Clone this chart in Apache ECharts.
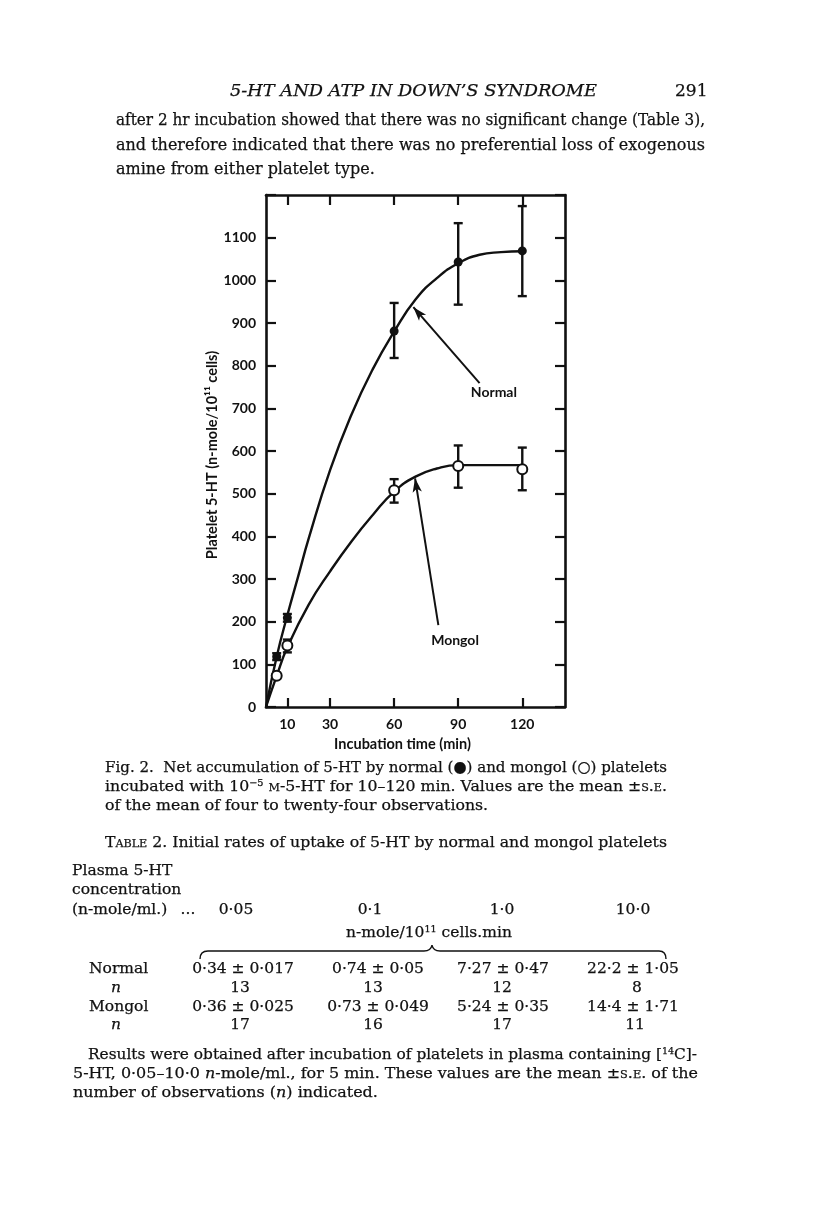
<!DOCTYPE html>
<html>
<head>
<meta charset="utf-8">
<script src="https://cdn.jsdelivr.net/npm/echarts@6/dist/echarts.min.js"></script>
<style>
  html, body { margin: 0; padding: 0; background: #fff; }
  body { width: 816px; height: 1211px; position: relative; overflow: hidden; font-family: "DejaVu Serif", "Liberation Serif", serif; color: #111; }
  #chart { position: absolute; left: 0; top: 0; width: 816px; height: 1211px; z-index: 0; }
  .t, .c { -webkit-text-stroke: 0.25px #111; }
  .t { position: absolute; white-space: nowrap; line-height: 1; z-index: 2; transform-origin: 0 50%; }
  .c { position: absolute; white-space: nowrap; line-height: 1; z-index: 2; transform: translateX(-50%); }
  .sc { font-variant: small-caps; }
  sup { font-size: 0.62em; vertical-align: 0; position: relative; top: -0.5em; }
  svg { position: absolute; left: 0; top: 0; z-index: 1; }
</style>
</head>
<body>
<div id="chart"></div>

<!-- running head -->
<div class="t" data-w="367" style="left:230px; top:82px; font-size:17px; font-style:italic;">5-HT AND ATP IN DOWN’S SYNDROME</div>
<div class="t" style="left:675px; top:82px; font-size:17px;">291</div>

<!-- paragraph -->
<div class="t" data-w="589" style="left:116px; top:111px; font-size:17px;">after 2 hr incubation showed that there was no significant change (Table 3),</div>
<div class="t" data-w="589" style="left:116px; top:136px; font-size:17px;">and therefore indicated that there was no preferential loss of exogenous</div>
<div class="t" data-s="prev" style="left:116px; top:160px; font-size:17px;">amine from either platelet type.</div>

<!-- caption -->
<div class="t" data-w="562" style="left:105px; top:760px; font-size:15.5px;">Fig. 2.&nbsp; Net accumulation of 5-HT by normal (●) and mongol (○) platelets</div>
<div class="t" data-w="562" style="left:105px; top:779px; font-size:15.5px;">incubated with 10<sup>−5</sup> <span class="sc">m</span>-5-HT for 10–120 min. Values are the mean ±<span class="sc">s.e.</span></div>
<div class="t" data-s="prev" style="left:105px; top:798px; font-size:15.5px;">of the mean of four to twenty-four observations.</div>

<!-- table title -->
<div class="t" data-w="562" style="left:105px; top:835px; font-size:15.5px;"><span class="sc">Table</span> 2. Initial rates of uptake of 5-HT by normal and mongol platelets</div>

<!-- table -->
<div class="t" style="left:72px; top:863px; font-size:15.5px;">Plasma 5-HT</div>
<div class="t" style="left:72px; top:882px; font-size:15.5px;">concentration</div>
<div class="t" style="left:72px; top:902px; font-size:15.5px;">(n-mole/ml.)</div>
<div class="c" style="left:188px; top:902px; font-size:15.5px;">...</div>
<div class="c" style="left:236px; top:902px; font-size:15.5px;">0·05</div>
<div class="c" style="left:370px; top:902px; font-size:15.5px;">0·1</div>
<div class="c" style="left:502px; top:902px; font-size:15.5px;">1·0</div>
<div class="c" style="left:633px; top:902px; font-size:15.5px;">10·0</div>
<div class="c" style="left:429px; top:925px; font-size:15.5px;">n-mole/10<sup>11</sup> cells.min</div>

<svg width="816" height="1211"><path d="M200,959 Q200,951 208,951 L424,951 Q431,951 432,945 Q433,951 440,951 L659,951 Q666,951 666,959" fill="none" stroke="#111" stroke-width="1.4"/></svg>

<div class="t" style="left:89px; top:961px; font-size:15.5px;">Normal</div>
<div class="c" style="left:116px; top:980px; font-size:15.5px; font-style:italic;">n</div>
<div class="t" style="left:89px; top:999px; font-size:15.5px;">Mongol</div>
<div class="c" style="left:116px; top:1017px; font-size:15.5px; font-style:italic;">n</div>

<div class="c" style="left:243px; top:961px; font-size:15.5px;">0·34 ± 0·017</div>
<div class="c" style="left:378px; top:961px; font-size:15.5px;">0·74 ± 0·05</div>
<div class="c" style="left:503px; top:961px; font-size:15.5px;">7·27 ± 0·47</div>
<div class="c" style="left:633px; top:961px; font-size:15.5px;">22·2 ± 1·05</div>
<div class="c" style="left:240px; top:980px; font-size:15.5px;">13</div>
<div class="c" style="left:373px; top:980px; font-size:15.5px;">13</div>
<div class="c" style="left:502px; top:980px; font-size:15.5px;">12</div>
<div class="c" style="left:637px; top:980px; font-size:15.5px;">8</div>
<div class="c" style="left:243px; top:999px; font-size:15.5px;">0·36 ± 0·025</div>
<div class="c" style="left:378px; top:999px; font-size:15.5px;">0·73 ± 0·049</div>
<div class="c" style="left:503px; top:999px; font-size:15.5px;">5·24 ± 0·35</div>
<div class="c" style="left:633px; top:999px; font-size:15.5px;">14·4 ± 1·71</div>
<div class="c" style="left:240px; top:1017px; font-size:15.5px;">17</div>
<div class="c" style="left:373px; top:1017px; font-size:15.5px;">16</div>
<div class="c" style="left:502px; top:1017px; font-size:15.5px;">17</div>
<div class="c" style="left:635px; top:1017px; font-size:15.5px;">11</div>

<!-- footnote -->
<div class="t" data-w="609" style="left:88px; top:1047px; font-size:15.5px;">Results were obtained after incubation of platelets in plasma containing [<sup>14</sup>C]-</div>
<div class="t" data-w="625" style="left:73px; top:1066px; font-size:15.5px;">5-HT, 0·05–10·0 <i>n</i>-mole/ml., for 5 min. These values are the mean ±<span class="sc">s.e.</span> of the</div>
<div class="t" data-s="prev" style="left:73px; top:1085px; font-size:15.5px;">number of observations (<i>n</i>) indicated.</div>

<script>
// ---------- data ----------
const xTickValues = [10, 30, 60, 90, 120];

const normalTimes = [5, 10, 60, 90, 120];
const normalMeans = [118, 209, 881, 1043, 1069];
const normalLow   = [110, 200, 818, 943, 963];
const normalHigh  = [126, 218, 947, 1134, 1174];

const mongolTimes = [5, 10, 60, 90, 120];
const mongolMeans = [73, 144, 508, 565, 557];
const mongolLow   = [67, 128, 479, 514, 508];
const mongolHigh  = [80, 158, 534, 613, 608];

// fitted curves as drawn in the figure
const normalCurveT = [0, 5, 10, 15, 20, 30, 40, 50, 60, 70, 80, 90, 100, 110, 120];
const normalCurveV = [0, 118, 215, 305, 395, 555, 685, 792, 880, 955, 1005, 1040, 1060, 1066, 1068];
const mongolCurveT = [0, 5, 10, 20, 30, 40, 50, 60, 70, 80, 90, 105, 120];
const mongolCurveV = [0, 73, 140, 240, 318, 388, 450, 505, 540, 559, 567, 567, 567];

// annotation arrows (tail, head) and labels in data coordinates
const normalArrow = [[100, 759], [69, 937]];
const mongolArrow = [[80.7, 192], [69.8, 536]];
const normalLabelAt = [106.7, 738];
const mongolLabelAt = [88.5, 155];

// ---------- chart ----------
const ink = '#111';
const sansFont = 'Lato, "Open Sans", "DejaVu Sans", sans-serif';
const zip = (a, b) => a.map((v, i) => [v, b[i]]);

function errRender(params, api) {
  const x = api.value(0), lo = api.value(1), hi = api.value(2);
  const p1 = api.coord([x, lo]);
  const p2 = api.coord([x, hi]);
  const cw = 4.5;
  const st = { stroke: ink, lineWidth: 2.4 };
  return {
    type: 'group',
    children: [
      { type: 'line', shape: { x1: p1[0], y1: p1[1], x2: p2[0], y2: p2[1] }, style: st },
      { type: 'line', shape: { x1: p1[0] - cw, y1: p1[1], x2: p1[0] + cw, y2: p1[1] }, style: st },
      { type: 'line', shape: { x1: p2[0] - cw, y1: p2[1], x2: p2[0] + cw, y2: p2[1] }, style: st }
    ]
  };
}

const axisLineStyle = { show: true, onZero: false, lineStyle: { color: ink, width: 2.6 } };
const tickStyle = { color: ink, width: 2.2 };

const chart = echarts.init(document.getElementById('chart'), null, { renderer: 'canvas' });
chart.setOption({
  animation: false,
  backgroundColor: 'transparent',
  grid: { left: 266, top: 195, width: 299, height: 512, containLabel: false },
  xAxis: [
    {
      type: 'value', position: 'bottom', min: 0, max: 140,
      axisLine: axisLineStyle,
      axisTick: { show: true, inside: true, length: 9, lineStyle: tickStyle, customValues: xTickValues },
      axisLabel: { show: true, customValues: xTickValues, color: ink, fontFamily: sansFont, fontWeight: 'bold', fontSize: 14, margin: 10 },
      splitLine: { show: false },
      name: 'Incubation time (min)', nameLocation: 'middle', nameGap: 30,
      nameTextStyle: { color: ink, fontFamily: sansFont, fontWeight: 'bold', fontSize: 14.5, padding: [0, 26, 0, 0] }
    },
    {
      type: 'value', position: 'top', min: 0, max: 140,
      axisLine: axisLineStyle,
      axisTick: { show: true, inside: true, length: 10, lineStyle: tickStyle, customValues: xTickValues },
      axisLabel: { show: false },
      splitLine: { show: false }
    }
  ],
  yAxis: [
    {
      type: 'value', position: 'left', min: 0, max: 1200, interval: 100,
      axisLine: axisLineStyle,
      axisTick: { show: true, inside: true, length: 10, lineStyle: tickStyle },
      axisLabel: { color: ink, fontFamily: sansFont, fontWeight: 'bold', fontSize: 14, margin: 10,
                   formatter: v => (v === 1200 ? '' : String(v)) },
      splitLine: { show: false },
      name: 'Platelet 5-HT (n-mole/10¹¹ cells)', nameLocation: 'middle', nameGap: 46, nameRotate: 90,
      nameTextStyle: { color: ink, fontFamily: sansFont, fontWeight: 'bold', fontSize: 14.5, padding: [0, 8, 0, 0] }
    },
    {
      type: 'value', position: 'right', min: 0, max: 1200, interval: 100,
      axisLine: axisLineStyle,
      axisTick: { show: true, inside: true, length: 10, lineStyle: tickStyle },
      axisLabel: { show: false },
      splitLine: { show: false }
    }
  ],
  series: [
    {
      name: 'Normal curve', type: 'line', data: zip(normalCurveT, normalCurveV),
      smooth: 0.5, showSymbol: false, silent: true, z: 2,
      lineStyle: { color: ink, width: 2.4 },
      markLine: {
        silent: true, symbol: ['none', 'arrow'], symbolSize: [7, 14],
        lineStyle: { color: ink, width: 2, type: 'solid' }, label: { show: false },
        data: [[{ coord: normalArrow[0] }, { coord: normalArrow[1] }]]
      },
      markPoint: {
        silent: true, symbol: 'circle', symbolSize: 1, itemStyle: { color: 'transparent' },
        label: { show: true, position: 'inside', formatter: 'Normal', color: ink, fontFamily: sansFont, fontWeight: 'bold', fontSize: 14 },
        data: [{ coord: normalLabelAt, value: 'Normal' }]
      }
    },
    {
      name: 'Mongol curve', type: 'line', data: zip(mongolCurveT, mongolCurveV),
      smooth: 0.5, showSymbol: false, silent: true, z: 2,
      lineStyle: { color: ink, width: 2.4 },
      markLine: {
        silent: true, symbol: ['none', 'arrow'], symbolSize: [7, 14],
        lineStyle: { color: ink, width: 2, type: 'solid' }, label: { show: false },
        data: [[{ coord: mongolArrow[0] }, { coord: mongolArrow[1] }]]
      },
      markPoint: {
        silent: true, symbol: 'circle', symbolSize: 1, itemStyle: { color: 'transparent' },
        label: { show: true, position: 'inside', formatter: 'Mongol', color: ink, fontFamily: sansFont, fontWeight: 'bold', fontSize: 14 },
        data: [{ coord: mongolLabelAt, value: 'Mongol' }]
      }
    },
    {
      name: 'Normal s.e.', type: 'custom', renderItem: errRender, z: 3,
      encode: { x: 0, y: [1, 2] },
      data: normalTimes.map((t, i) => [t, normalLow[i], normalHigh[i]])
    },
    {
      name: 'Mongol s.e.', type: 'custom', renderItem: errRender, z: 3,
      encode: { x: 0, y: [1, 2] },
      data: mongolTimes.map((t, i) => [t, mongolLow[i], mongolHigh[i]])
    },
    {
      name: 'Normal', type: 'scatter', data: zip(normalTimes, normalMeans), z: 4,
      symbol: 'circle', symbolSize: 9, itemStyle: { color: ink, opacity: 1 }
    },
    {
      name: 'Mongol', type: 'scatter', data: zip(mongolTimes, mongolMeans), z: 4,
      symbol: 'circle', symbolSize: 10, itemStyle: { color: '#fff', borderColor: ink, borderWidth: 2, opacity: 1 }
    }
  ]
});

// ---------- fit justified text lines to their measured spans ----------
let prevScale = 1;
document.querySelectorAll('.t').forEach(el => {
  if (el.dataset.w) {
    const w = el.getBoundingClientRect().width;
    prevScale = parseFloat(el.dataset.w) / w;
    el.style.transform = 'scaleX(' + prevScale + ')';
  } else if (el.dataset.s === 'prev') {
    el.style.transform = 'scaleX(' + prevScale + ')';
  }
});
</script>
</body>
</html>
